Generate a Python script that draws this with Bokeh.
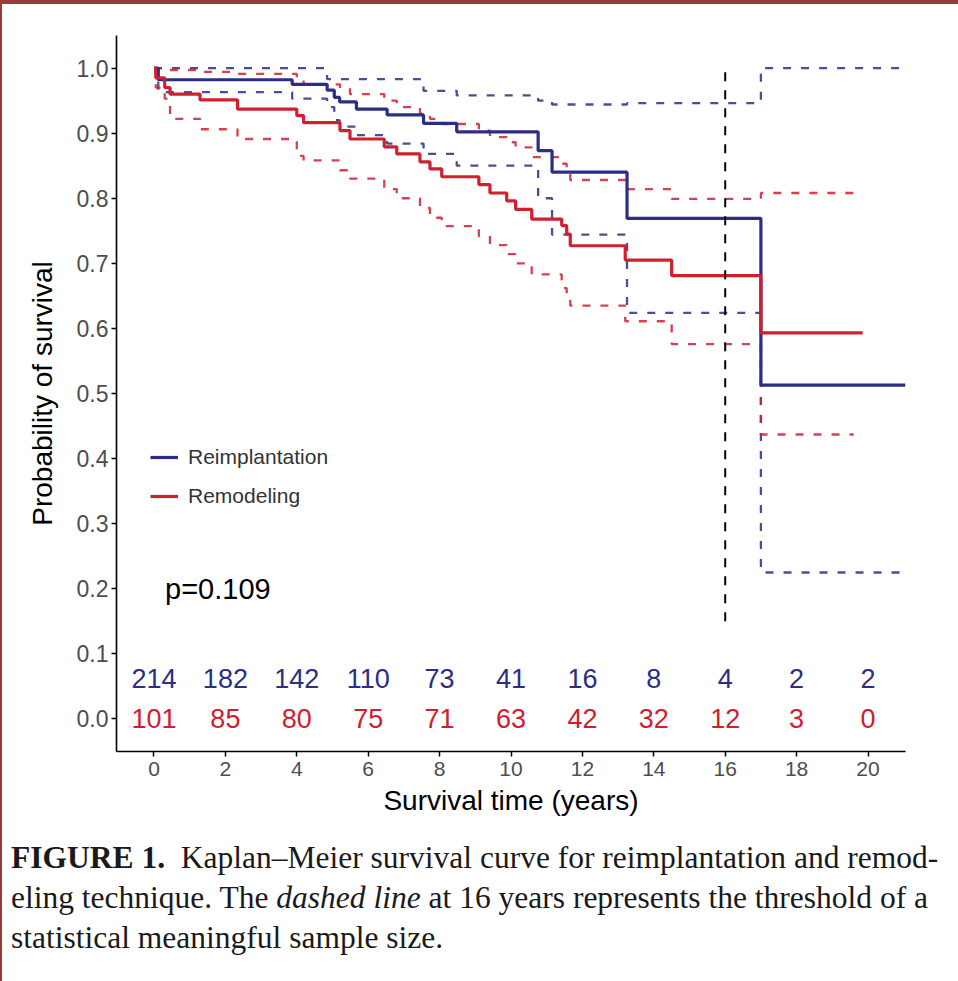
from bokeh.plotting import figure
from bokeh.models import (FixedTicker, PrintfTickFormatter, Legend, LegendItem,
                          Label, Div, Range1d)
from bokeh.layouts import column
from bokeh.embed import file_html
from bokeh.resources import INLINE
from bokeh.core.properties import value

# ---------------- data ----------------
# Reimplantation: Kaplan-Meier steps with 95% CI
reimp_times = [0.0, 0.12, 3.87, 4.85, 5.05, 5.2, 5.67, 6.53, 7.55, 8.48, 10.76, 11.15, 13.25, 17.0]
reimp_surv = [1.0, 0.982, 0.975, 0.966, 0.955, 0.948, 0.937, 0.928, 0.915, 0.902, 0.873, 0.840, 0.769, 0.513]
reimp_upper = [1.0, 1.0, 1.0, 0.983, 0.983, 0.983, 0.983, 0.983, 0.965, 0.958, 0.950, 0.944, 0.946, 1.0]
reimp_lower = [1.0, 0.963, 0.953, 0.940, 0.920, 0.910, 0.897, 0.884, 0.868, 0.850, 0.800, 0.744, 0.624, 0.225]
reimp_end = 21.05
reimp_ci_end = 20.9

# Remodeling
remod_times = [0.0, 0.05, 0.3, 0.45, 1.29, 2.34, 4.0, 4.19, 5.21, 5.49, 6.45, 6.8, 7.45, 7.73, 8.06,
               9.1, 9.41, 9.88, 10.13, 10.58, 11.42, 11.56, 11.66, 13.2, 14.5, 17.0]
remod_surv = [1.0, 0.985, 0.970, 0.960, 0.951, 0.937, 0.927, 0.916, 0.904, 0.891, 0.879, 0.868, 0.856,
              0.845, 0.833, 0.821, 0.808, 0.796, 0.783, 0.768, 0.758, 0.745, 0.727, 0.705, 0.681, 0.593]
remod_upper = [1.0, 1.0, 0.997, 0.997, 0.994, 0.991, 0.984, 0.975, 0.968, 0.960, 0.950, 0.940, 0.930,
               0.922, 0.914, 0.904, 0.894, 0.886, 0.878, 0.863, 0.853, 0.842, 0.828, 0.814, 0.799, 0.808]
remod_lower = [1.0, 0.970, 0.953, 0.922, 0.906, 0.891, 0.865, 0.858, 0.843, 0.830, 0.814, 0.800, 0.785,
               0.770, 0.757, 0.742, 0.728, 0.714, 0.700, 0.683, 0.662, 0.648, 0.635, 0.611, 0.576, 0.437]
remod_end = 19.85
remod_ci_end = 19.6

# numbers at risk
risk_times = [0, 2, 4, 6, 8, 10, 12, 14, 16, 18, 20]
reimp_risk = [214, 182, 142, 110, 73, 41, 16, 8, 4, 2, 2]
remod_risk = [101, 85, 80, 75, 71, 63, 42, 32, 12, 3, 0]
reimp_risk_row = 0.062
remod_risk_row = 0.0

threshold_year = 16
threshold_from = 0.15
threshold_to = 1.0

p_value_text = "p=0.109"
x_ticks = [0, 2, 4, 6, 8, 10, 12, 14, 16, 18, 20]
y_ticks = [0.0, 0.1, 0.2, 0.3, 0.4, 0.5, 0.6, 0.7, 0.8, 0.9, 1.0]

BLUE = "#2b2e82"
RED = "#cf2030"
FRAME = "#9b3a3a"
SANS = "Liberation Sans"


def ext(xs, end):
    return list(xs) + [end]


def exty(ys):
    return list(ys) + [ys[-1]]


p = figure(width=948, height=829,
           x_range=Range1d(-1.05, 21.05), y_range=Range1d(-0.05, 1.05),
           output_backend="svg", toolbar_location=None,
           min_border_left=114, min_border_right=45,
           min_border_top=31, min_border_bottom=82)
p.outline_line_color = None
p.grid.visible = False
p.background_fill_color = "white"
p.border_fill_color = "white"

# confidence bands (dashed steps)
p.step(ext(reimp_times, reimp_ci_end), exty(reimp_upper), mode="after",
       line_color=BLUE, line_width=2.3, line_dash="8 10", line_alpha=0.85)
p.step(ext(reimp_times, reimp_ci_end), exty(reimp_lower), mode="after",
       line_color=BLUE, line_width=2.3, line_dash="8 10", line_alpha=0.85)
p.step(ext(remod_times, remod_ci_end), exty(remod_upper), mode="after",
       line_color=RED, line_width=2.3, line_dash="8 10", line_alpha=0.85)
p.step(ext(remod_times, remod_ci_end), exty(remod_lower), mode="after",
       line_color=RED, line_width=2.3, line_dash="8 10", line_alpha=0.85)

# survival curves
r_b = p.step(ext(reimp_times, reimp_end), exty(reimp_surv), mode="after",
             line_color=BLUE, line_width=3.2)
r_r = p.step(ext(remod_times, remod_end), exty(remod_surv), mode="after",
             line_color=RED, line_width=3.2)

# threshold line
p.segment(x0=[threshold_year], y0=[threshold_from], x1=[threshold_year], y1=[threshold_to],
          line_color="black", line_width=2, line_dash="9 9")

# numbers at risk
p.text(x=risk_times, y=[reimp_risk_row] * len(risk_times), text=[str(v) for v in reimp_risk],
       text_align="center", text_baseline="middle", text_font=value(SANS),
       text_font_size="27px", text_color=BLUE)
p.text(x=risk_times, y=[remod_risk_row] * len(risk_times), text=[str(v) for v in remod_risk],
       text_align="center", text_baseline="middle", text_font=value(SANS),
       text_font_size="27px", text_color=RED)

# p-value
p.add_layout(Label(x=0.31, y=0.2, text=p_value_text, text_baseline="middle",
                   text_font=SANS, text_font_size="29px", text_color="black"))

# legend
legend = Legend(items=[LegendItem(label="Reimplantation", renderers=[r_b]),
                       LegendItem(label="Remodeling", renderers=[r_r])],
                location=(34, 243), glyph_width=28, glyph_height=22, label_height=22,
                label_standoff=10, spacing=15, padding=0, margin=0,
                border_line_color=None, background_fill_alpha=0,
                label_text_font=SANS, label_text_font_size="21px", label_text_color="#333333")
p.add_layout(legend)

# axes
for ax in (p.xaxis[0], p.yaxis[0]):
    ax.axis_line_color = "black"
    ax.axis_line_width = 1.6
    ax.major_tick_line_color = "black"
    ax.major_tick_line_width = 1.5
    ax.major_tick_out = 5
    ax.major_tick_in = 0
    ax.minor_tick_line_color = None
    ax.major_label_text_color = "#4d4d4d"
    ax.major_label_text_font = SANS
    ax.axis_label_text_font = SANS
    ax.axis_label_text_font_style = "normal"
    ax.axis_label_text_color = "black"
    ax.axis_label_text_font_size = "28px"

p.xaxis.ticker = FixedTicker(ticks=x_ticks)
p.xaxis.major_label_text_font_size = "21px"
p.xaxis.major_label_standoff = 5
p.xaxis.axis_label = "Survival time (years)"
p.xaxis.axis_label_standoff = 6

p.yaxis.ticker = FixedTicker(ticks=y_ticks)
p.yaxis.formatter = PrintfTickFormatter(format="%.1f")
p.yaxis.major_label_text_font_size = "23px"
p.yaxis.major_label_standoff = 3
p.yaxis.axis_label = "Probability of survival"
p.yaxis.axis_label_standoff = 16

caption = Div(
    text=('<b>FIGURE 1.</b>&nbsp; Kaplan–Meier survival curve for reimplantation and remod-<br>'
          'eling technique. The <i>dashed line</i> at 16 years represents the threshold of a<br>'
          'statistical meaningful sample size.'),
    width=948, height=150,
    styles={"font-family": "Liberation Serif", "font-size": "31.5px", "line-height": "40px",
            "color": "#1a1a1a", "padding-left": "4px", "white-space": "nowrap"})

layout = column(p, caption, spacing=0,
                styles={"border-top": "4px solid " + FRAME, "border-left": "2px solid " + FRAME})
open("out.html", "w").write(file_html(layout, INLINE))
